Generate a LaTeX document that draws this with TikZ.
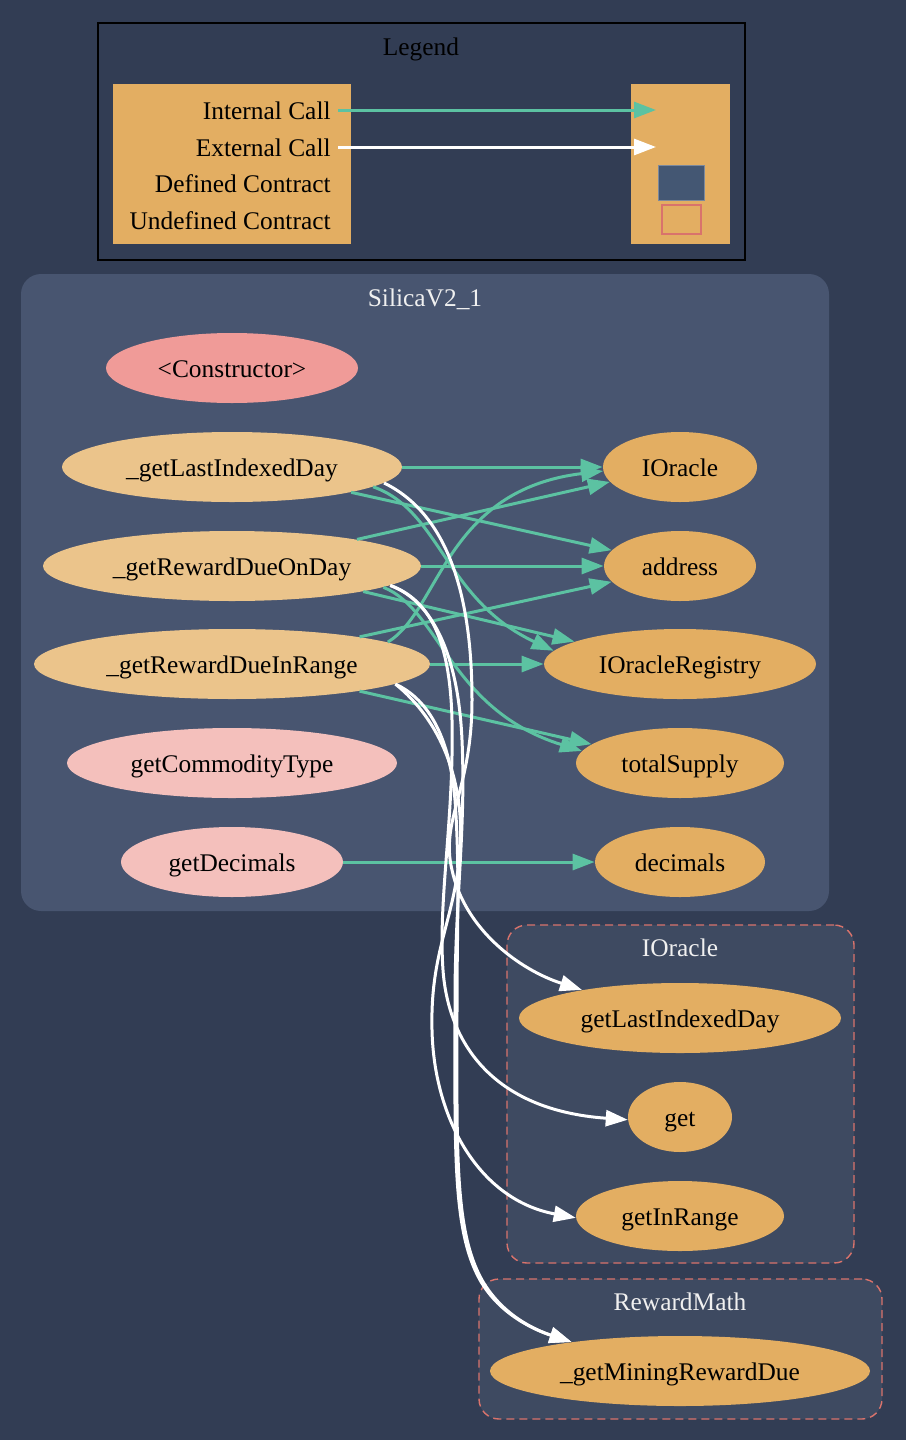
\documentclass[tikz,border=0pt]{standalone}
\usepackage{fontspec}
\setmainfont{Liberation Serif}
\usetikzlibrary{shapes.geometric,arrows.meta}
\definecolor{bg}{HTML}{323D54}
\definecolor{clus}{HTML}{485570}
\definecolor{uclus}{HTML}{3E4A61}
\definecolor{ured}{HTML}{D9736C}
\definecolor{orng}{HTML}{E3AE62}
\definecolor{lorng}{HTML}{EBC48B}
\definecolor{cpink}{HTML}{F09B98}
\definecolor{lpink}{HTML}{F4C0BC}
\definecolor{grn}{HTML}{5CC2A2}
\definecolor{defc}{HTML}{445773}
\definecolor{ctext}{HTML}{F0F0F0}
\newcommand\gvfont{\fontsize{12.7}{15}\selectfont}
\tikzset{
  gvtext/.style={font=\gvfont, text height=9pt, text depth=0pt},
  fn/.style={ellipse, draw=none, inner sep=0pt, minimum height=35pt, gvtext, text=black},
  clusterbox/.style={rectangle, rounded corners=10pt, inner sep=0pt, fill=clus},
  undefbox/.style={rectangle, rounded corners=10pt, inner sep=0pt, fill=uclus, draw=ured, line width=0.7pt, dash pattern=on 4pt off 2.5pt},
  ctitle/.style={gvtext, text=ctext, inner sep=0pt},
  ltext/.style={gvtext, text=black, inner sep=0pt, anchor=east},
  icall/.style={draw=grn, line width=1.5pt, -{Triangle[length=11pt,width=8pt]}},
  xcall/.style={draw=white, line width=1.5pt, -{Triangle[length=11pt,width=8pt]}}
}
\begin{document}
\begin{tikzpicture}[x=0.5pt,y=-0.5pt]
\fill[bg] (0,0) rectangle (906,1440);
\useasboundingbox (0,0) rectangle (906,1440);

% Legend
\node[rectangle, draw=black, line width=0.9pt, inner sep=0pt, minimum width=323.5pt, minimum height=118.5pt] (legend) at (421.5,141.5) {};
\node[gvtext, text=black, inner sep=0pt] (legendt) at (421,46) {Legend};
\node[rectangle, fill=orng, inner sep=0pt, minimum width=119pt, minimum height=80pt] (lleft) at (232,164) {};
\node[rectangle, fill=orng, inner sep=0pt, minimum width=49.5pt, minimum height=80pt] (lright) at (680.5,164) {};
\node[ltext] (lt1) at (331,110) {Internal Call};
\node[ltext] (lt2) at (331,147) {External Call};
\node[ltext] (lt3) at (331,183) {Defined Contract};
\node[ltext] (lt4) at (331,220) {Undefined Contract};
\coordinate (la1) at (338,110);
\coordinate (lb1) at (656,110);
\coordinate (la2) at (338,147);
\coordinate (lb2) at (656,147);
\draw[icall] (la1) -- (lb1);
\draw[xcall] (la2) -- (lb2);
\node[rectangle, fill=defc, draw=defc!70!white, line width=0.5pt, inner sep=0pt, minimum width=23pt, minimum height=17.5pt] (ldef) at (681,182.5) {};
\node[rectangle, fill=orng, draw=ured, line width=0.8pt, inner sep=0pt, minimum width=19.5pt, minimum height=14.5pt] (lundef) at (681.5,219.5) {};

% Clusters
\node[clusterbox, minimum width=404pt, minimum height=318.5pt] (silica) at (425,592.5) {};
\node[ctitle] (silicat) at (425,297) {SilicaV2\_1};
\node[undefbox, minimum width=173.5pt, minimum height=169pt] (ioraclec) at (680.5,1094) {};
\node[ctitle] (ioraclet) at (680,947) {IOracle};
\node[undefbox, minimum width=201.5pt, minimum height=70pt] (rmathc) at (680.5,1349) {};
\node[ctitle] (rmatht) at (680,1301) {RewardMath};

% Function nodes
\node[fn, fill=cpink, minimum width=126pt] (con) at (232,368) {<Constructor>};
\node[fn, fill=lorng, minimum width=170pt] (lid) at (232,467) {\_getLastIndexedDay};
\node[fn, fill=lorng, minimum width=189pt] (ond) at (232,566) {\_getRewardDueOnDay};
\node[fn, fill=lorng, minimum width=198pt] (inr) at (232,664) {\_getRewardDueInRange};
\node[fn, fill=lpink, minimum width=165pt] (gct) at (232,763) {getCommodityType};
\node[fn, fill=lpink, minimum width=111pt] (gd) at (232,862) {getDecimals};
\node[fn, fill=orng, minimum width=77pt] (ior) at (680,467) {IOracle};
\node[fn, fill=orng, minimum width=76pt] (adr) at (680,566) {address};
\node[fn, fill=orng, minimum width=136pt] (ireg) at (680,664) {IOracleRegistry};
\node[fn, fill=orng, minimum width=104pt] (ts) at (680,763) {totalSupply};
\node[fn, fill=orng, minimum width=85pt] (dec) at (680,862) {decimals};
\node[fn, fill=orng, minimum width=161pt] (glid) at (680,1018) {getLastIndexedDay};
\node[fn, fill=orng, minimum width=52pt] (get) at (680,1117) {get};
\node[fn, fill=orng, minimum width=104pt] (gir) at (680,1216) {getInRange};
\node[fn, fill=orng, minimum width=190pt] (gmrd) at (680,1371) {\_getMiningRewardDue};

% Internal calls
\draw[icall] (lid.0) -- (ior.180);
\draw[icall] (lid.-12) -- (adr.167);
\draw[icall] (lid.-8) .. controls (440,510) and (445,600) .. (ireg.174);
\draw[icall] (ond.12.8) -- (ior.192);
\draw[icall] (ond.0) -- (adr.180);
\draw[icall] (ond.-11.9) -- (ireg.168.4);
\draw[icall] (ond.-8.6) .. controls (440,610) and (450,710) .. (ts.173.7);
\draw[icall] (inr.8.3) .. controls (440,610) and (445,490) .. (ior.183.8);
\draw[icall] (inr.12.1) -- (adr.193.7);
\draw[icall] (inr.0) -- (ireg.180);
\draw[icall] (inr.-12.4) -- (ts.168.7);
\draw[icall] (gd.0) -- (dec.180);

% External calls
\draw[xcall] (lid.-6.5) .. controls (450,515) and (472,600) .. (472,700)
  .. controls (472,790) and (440,820) .. (452,870)
  .. controls (465,930) and (520,970) .. (glid.164.6);
\draw[xcall] (ond.-7) .. controls (430,600) and (450,640) .. (452,720)
  .. controls (454,820) and (438,900) .. (443,970)
  .. controls (448,1040) and (490,1110) .. (get.183);
\draw[xcall] (ond.-7) .. controls (430,600) and (458,650) .. (462,740)
  .. controls (466,830) and (455,900) .. (455,1000)
  .. controls (455,1150) and (452,1230) .. (480,1280)
  .. controls (500,1315) and (535,1330) .. (gmrd.165.5);
\draw[xcall] (inr.-7.9) .. controls (430,700) and (450,740) .. (455,800)
  .. controls (460,870) and (457,930) .. (457,1000)
  .. controls (457,1150) and (454,1230) .. (482,1280)
  .. controls (502,1315) and (535,1330) .. (gmrd.165.5);
\draw[xcall] (inr.-7.9) .. controls (440,720) and (465,780) .. (460,850)
  .. controls (455,920) and (430,950) .. (432,1030)
  .. controls (434,1120) and (480,1200) .. (gir.181);
\end{tikzpicture}
\end{document}
